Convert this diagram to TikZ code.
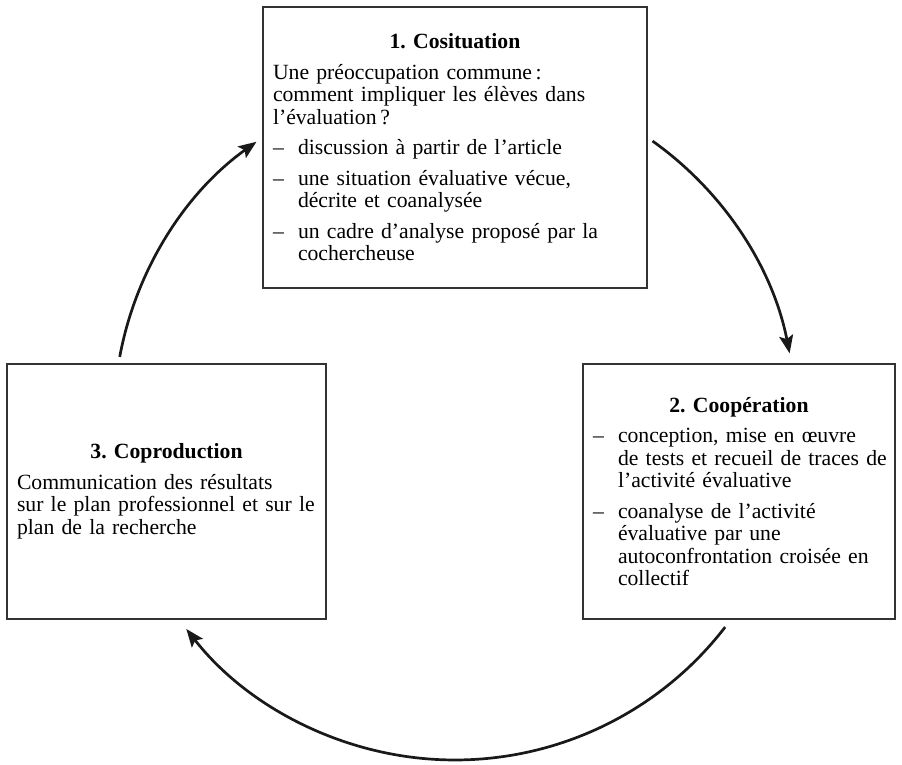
\documentclass[tikz,border=0pt]{standalone}
\usepackage{fontspec}
\setmainfont{Liberation Serif}
\usetikzlibrary{arrows.meta,calc}
\frenchspacing
\begin{document}
\begin{tikzpicture}[x=1pt,y=1pt,
  boxnode/.style={draw=black!80, line width=1.2pt, rectangle, inner ysep=0pt, inner xsep=10pt,
    align=left, font=\fontsize{21.7pt}{22.5pt}\selectfont, anchor=center},
  cyclearrow/.style={line width=2.7pt, black!90, -{Stealth[length=18pt,width=14pt,inset=3.5pt]}}]
\useasboundingbox (0,0) rectangle (902,765);

\node[boxnode, text width=364pt, minimum width=384pt, minimum height=281pt] (cosit) at (455,617.5) {%
\makebox[\linewidth]{\bfseries 1. Cosituation}\\[8pt]
\mbox{Une préoccupation commune\,:}\\
\mbox{comment impliquer les élèves dans}\\
\mbox{l’évaluation\,?}\\[8pt]
\mbox{\makebox[25pt][l]{–}discussion à partir de l’article}\\[8pt]
\mbox{\makebox[25pt][l]{–}une situation évaluative vécue,}\\
\mbox{\hspace*{25pt}décrite et coanalysée}\\[8pt]
\mbox{\makebox[25pt][l]{–}un cadre d’analyse proposé par la}\\
\mbox{\hspace*{25pt}cochercheuse}};

\node[boxnode, text width=292pt, minimum width=312pt, minimum height=255pt] (coop) at (739,273.5) {%
\makebox[\linewidth]{\bfseries 2. Coopération}\\[8pt]
\mbox{\makebox[25pt][l]{–}conception, mise en œuvre}\\
\mbox{\hspace*{25pt}de tests et recueil de traces de}\\
\mbox{\hspace*{25pt}l’activité évaluative}\\[8pt]
\mbox{\makebox[25pt][l]{–}coanalyse de l’activité}\\
\mbox{\hspace*{25pt}évaluative par une}\\
\mbox{\hspace*{25pt}autoconfrontation croisée en}\\
\mbox{\hspace*{25pt}collectif}};

\node[boxnode, text width=299pt, minimum width=319pt, minimum height=255pt] (coprod) at (166.5,273.5) {%
\makebox[\linewidth]{\bfseries 3. Coproduction}\\[8pt]
\mbox{Communication des résultats}\\
\mbox{sur le plan professionnel et sur le}\\
\mbox{plan de la recherche}};

\coordinate (ctr) at (455,346);
\coordinate (a1s) at ($(ctr)+(54.6:341pt)$);
\coordinate (a2s) at ($(ctr)+(-37.6:341pt)$);
\coordinate (a3s) at ($(ctr)+(169.5:341pt)$);

\draw[cyclearrow] (a1s) arc[start angle=54.6, end angle=11.1, radius=341pt];
\draw[cyclearrow] (a2s) arc[start angle=-37.6, end angle=-142, radius=341pt];
\draw[cyclearrow] (a3s) arc[start angle=169.5, end angle=125.6, radius=341pt];
\end{tikzpicture}
\end{document}
